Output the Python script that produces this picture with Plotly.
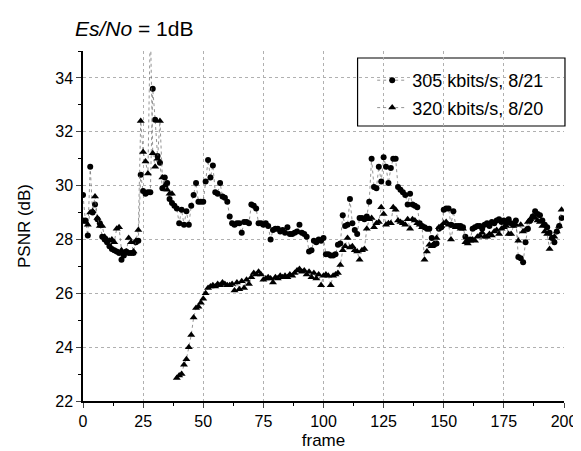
import plotly.graph_objects as go

frames = list(range(200))

psnr_305 = [
    29.65, 28.7, 28.15, 30.7, 29.0, 29.3, 28.75, 28.6, 28.1, 28.0,
    27.9, 27.75, 27.65, 27.6, 27.55, 27.5, 27.25, 27.4, 27.55, 27.5,
    27.5, 27.5, 27.9, 27.95, 30.4, 29.8, 29.7, 29.75, 29.75, 33.6,
    32.45, 31.1, 30.85, 29.9, 30.3, 30.1, 29.5, 29.35, 29.25, 29.15,
    28.6, 29.1, 28.55, 29.05, 28.55, 29.25, 29.65, 30.1, 29.4, 29.4,
    29.4, 30.15, 30.95, 30.3, 30.75, 29.75, 29.7, 30.1, 29.6, 29.55,
    29.4, 28.85, 28.6, 28.55, 28.6, 28.6, 28.25, 28.65, 28.65, 28.6,
    29.3, 29.25, 29.15, 28.6, 28.6, 28.55, 28.6, 28.5, 28.0, 28.35,
    28.4, 28.4, 28.3, 28.35, 28.25, 28.45, 28.2, 28.2, 28.25, 28.3,
    28.55, 28.25, 28.2, 28.1, 27.55, 27.6, 27.95, 27.9, 28.0, 27.95,
    28.05, 27.45, 27.45, 27.4, 27.4, 27.45, 27.8, 27.85, 28.9, 28.5,
    28.55, 29.5, 28.6, 28.35, 28.2, 28.8, 28.8, 28.75, 28.85, 29.4,
    31.0, 29.95, 29.9, 30.7, 30.15, 31.05, 30.7, 30.1, 30.65, 31.0,
    31.0, 29.95, 29.85, 29.75, 29.65, 29.3, 29.7, 29.3, 29.25, 29.2,
    28.6, 28.5, 28.45, 28.4, 28.4, 28.05, 27.8, 27.85, 28.4, 28.45,
    29.1, 29.15, 29.15, 28.55, 29.05, 28.5, 28.5, 28.5, 28.45, 28.1,
    27.95, 28.0, 28.4, 28.45, 28.5, 28.5, 28.4, 28.55, 28.6, 28.5,
    28.65, 28.6, 28.7, 28.75, 28.65, 28.7, 28.6, 28.75, 28.6, 28.55,
    28.7, 27.35, 27.3, 27.15, 27.9, 28.4, 28.7, 28.85, 29.05, 28.95,
    28.9, 28.7, 28.55, 28.45, 28.25, 28.05, 27.9, 28.3, 28.5, 28.8,
]

psnr_320 = [
    28.7, 28.65, 28.55, 29.0, 29.05, 29.6, 28.8, 28.5, 28.5, 28.1,
    28.0, 27.95, 28.0, 27.9, 28.4, 28.45, 27.6, 27.5, 27.55, 28.05,
    27.9, 27.55, 27.95, 28.35, 32.4, 31.25, 30.9, 30.45, 36.0, 31.2,
    30.7, 31.0, 32.4, 30.3, 30.0, 29.85, 29.7, 29.7, None, 22.85,
    22.95, 23.0, 23.35, 23.55, 24.0, 24.45, 25.1, 25.45, 25.5, 25.65,
    25.8, 26.0, 26.2, 26.25, 26.3, 26.25, 26.35, 26.3, 26.4, 26.35,
    26.3, 26.3, 26.35, 26.1, 26.4, 26.15, 26.45, 26.2, 26.5, 26.35,
    26.6, 26.75, 26.7, 26.8, 26.7, 26.5, 26.55, 26.6, 26.55, 26.4,
    26.6, 26.55, 26.65, 26.6, 26.65, 26.6, 26.7, 26.65, 26.75, 26.85,
    26.9, 26.8, 26.85, 26.7, 26.8, 26.6, 26.75, 26.55, 26.7, 26.3,
    26.65, 26.7, 26.65, 26.3, 26.65, 26.7, 26.75, 27.05, 27.6, 27.75,
    28.05, 27.7, 27.75, 27.6, 27.55, 27.25, 27.6, 27.65, 28.4, 28.75,
    28.8, 28.45, 28.6, 28.65, 29.2, 28.95, 28.55, 28.6, 28.6, 29.2,
    29.1, 28.7, 28.65, 28.6, 28.55, 28.75, 28.4, 28.75, 28.7, 28.6,
    28.55, 28.45, 27.25, 27.55, 27.8, 27.75, 27.85, 28.05, 28.45, 28.5,
    28.6, 28.65, 28.55, 28.0, 28.5, 28.45, 28.45, 28.4, 28.4, 27.9,
    27.85, 27.95, 28.0, 27.95, 28.1, 28.15, 28.25, 28.1, 28.1, 28.2,
    28.15, 28.3, 28.35, 28.2, 28.4, 28.45, 28.5, 28.2, 28.2, 28.5,
    28.55, 27.95, 28.55, 28.3, 28.35, 28.65, 28.75, 28.85, 28.8, 28.7,
    28.65, 28.5, 28.3, 28.2, 27.65, 28.05, 28.1, 28.3, 28.5, 29.1,
]

label_305 = "305 kbits/s, 8/21"
label_320 = "320 kbits/s, 8/20"
x_ticks = [0, 25, 50, 75, 100, 125, 150, 175, 200]
y_ticks = [22, 24, 26, 28, 30, 32, 34]

FONT = "Liberation Sans, Arial, sans-serif"

fig = go.Figure()
fig.add_trace(go.Scatter(
    x=frames, y=psnr_305, name=label_305, mode="lines+markers",
    line=dict(color="#666666", width=0.7, dash="dot"),
    marker=dict(symbol="circle", size=6, color="black"),
    legendgroup="a",
))
fig.add_trace(go.Scatter(
    x=frames, y=psnr_320, name=label_320, mode="lines+markers",
    line=dict(color="#666666", width=0.7, dash="dot"),
    marker=dict(symbol="triangle-up", size=7, color="black"),
    legendgroup="b",
))

# legend frame
fig.add_shape(type="rect", xref="paper", yref="paper",
              x0=(357 - 75) / 494, x1=(570 - 75) / 494,
              y0=(393 - 118) / 350, y1=(393 - 50) / 350,
              line=dict(color="black", width=1.2), fillcolor="white", layer="below")

fig.add_annotation(
    text="<i>Es/No</i> = 1dB", xref="paper", yref="paper",
    x=(65 - 75) / 494, y=(393 - 20) / 350, xanchor="left", yanchor="middle",
    showarrow=False, font=dict(family=FONT, size=21, color="black"),
)

fig.update_layout(
    width=581, height=451,
    margin=dict(l=75, r=12, t=43, b=58),
    paper_bgcolor="white", plot_bgcolor="white",
    font=dict(family=FONT, color="black"),
    showlegend=True,
    legend=dict(
        x=(372 - 75) / 494, y=(393 - 54) / 350, xanchor="left", yanchor="top",
        bgcolor="rgba(0,0,0,0)", borderwidth=0,
        font=dict(family=FONT, size=18, color="black"),
        tracegroupgap=1,
    ),
    xaxis=dict(
        range=[0, 200], tickvals=x_ticks, ticks="outside", ticklen=5, tickwidth=1.2,
        showline=True, linecolor="black", linewidth=1.5,
        showgrid=True, gridcolor="#b0b0b0", griddash="dot", gridwidth=1,
        zeroline=False, tickfont=dict(size=16), ticklabeloverflow="allow",
        minor=dict(dtick=12.5, tick0=0, ticks="outside", ticklen=3, tickcolor="black", showgrid=False),
        title=dict(text="frame", font=dict(size=17), standoff=5),
    ),
    yaxis=dict(
        range=[22, 35], tickvals=y_ticks, ticks="outside", ticklen=5, tickwidth=1.2,
        showline=True, linecolor="black", linewidth=1.5,
        showgrid=True, gridcolor="#b0b0b0", griddash="dot", gridwidth=1,
        zeroline=False, tickfont=dict(size=16),
        minor=dict(dtick=1, tick0=22, ticks="outside", ticklen=3, tickcolor="black", showgrid=False),
        title=dict(text="PSNR (dB)", font=dict(size=17), standoff=20),
    ),
)

fig.write_html("out.html")
